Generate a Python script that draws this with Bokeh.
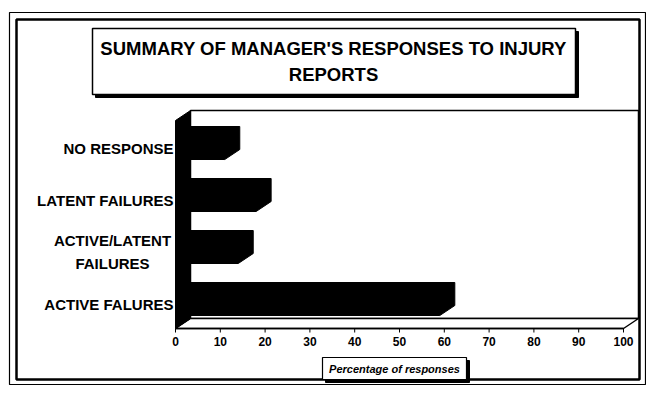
from bokeh.plotting import figure
from bokeh.models import Range1d
from bokeh.core.properties import value
from bokeh.embed import file_html
from bokeh.resources import INLINE

# ---------------- data ----------------
categories = ["ACTIVE FALURES", "ACTIVE/LATENT\nFAILURES", "LATENT FAILURES", "NO RESPONSE"]
percentages = [59, 14, 18, 11]
x_ticks = [0, 10, 20, 30, 40, 50, 60, 70, 80, 90, 100]
x_tick_labels = ["0", "10", "20", "30", "40", "50", "60", "70", "80", "90", "100"]
title_lines = ["SUMMARY OF MANAGER'S RESPONSES TO INJURY", "REPORTS"]
x_axis_label = "Percentage of responses"
x_max = 100

# ---------------- layout (picture pixels -> data) ----------------
W, H = 646, 385
PX_PER_UNIT = 4.48
X0_PAGE = 175.0
Y0_PAGE = 303.5
BAND_PX = 52.0


def X(px):
    return (px - X0_PAGE) / PX_PER_UNIT


def Y(py):
    return (Y0_PAGE - py) / BAND_PX


DX = 15 / PX_PER_UNIT
DY = 10 / BAND_PX
HALF = 11.5 / BAND_PX
FONT = value("Liberation Sans")

p = figure(width=W, height=H, output_backend="svg", toolbar_location=None,
           x_range=Range1d(X(0), X(W)), y_range=Range1d(Y(H), Y(0)),
           x_axis_type=None, y_axis_type=None, min_border=0)
p.outline_line_color = None
p.grid.visible = False
p.background_fill_color = "white"
p.border_fill_color = "white"

# outer double frame
p.quad(left=[X(9)], right=[X(645)], top=[Y(12)], bottom=[Y(384)],
       fill_color=None, line_color="black", line_width=1.2)
p.quad(left=[X(16)], right=[X(639)], top=[Y(19)], bottom=[Y(379)],
       fill_color=None, line_color="black", line_width=2.5)

# title box with shadow
p.quad(left=[X(95)], right=[X(578)], top=[Y(31)], bottom=[Y(97)],
       fill_color="black", line_color="black")
p.quad(left=[X(92)], right=[X(575)], top=[Y(28)], bottom=[Y(94)],
       fill_color="white", line_color="black", line_width=1.5)
p.text(x=[X(333)] * 2, y=[Y(48), Y(74)], text=title_lines,
       text_font=FONT, text_font_style="bold", text_font_size="18.5px",
       text_align="center", text_baseline="middle", text_color="black")

# 3D chart area
y_floor = Y(328)
y_top = Y(120)
# back wall
p.quad(left=[DX], right=[x_max + DX], bottom=[y_floor + DY], top=[y_top + DY],
       fill_color="white", line_color="black", line_width=1.5)
# floor
p.patch(x=[0, x_max, x_max + DX, DX], y=[y_floor, y_floor, y_floor + DY, y_floor + DY],
        fill_color="white", line_color="black", line_width=1.5)
# left wall (black)
p.patch(x=[0, 0, DX, DX], y=[y_floor, y_top, y_top + DY, y_floor + DY],
        fill_color="black", line_color="black", line_width=1)

# bars (3D silhouette)
xs, ys = [], []
for k, v in enumerate(percentages):
    b, t = k - HALF, k + HALF
    xs.append([0, v, v + DX, v + DX, DX, 0])
    ys.append([b, b, b + DY, t + DY, t + DY, t])
p.patches(xs=xs, ys=ys, fill_color="black", line_color="black", line_width=1)

# x axis: line, ticks, labels
p.segment(x0=[0], y0=[y_floor], x1=[x_max], y1=[y_floor], line_color="black", line_width=1.5)
p.segment(x0=x_ticks, y0=[y_floor] * len(x_ticks), x1=x_ticks, y1=[Y(332)] * len(x_ticks),
          line_color="black", line_width=1)
p.text(x=x_ticks, y=[Y(341)] * len(x_ticks), text=x_tick_labels,
       text_font=FONT, text_font_style="bold", text_font_size="12px",
       text_align="center", text_baseline="middle", text_color="black")

# category labels
single = [(k, c) for k, c in enumerate(categories) if "\n" not in c]
multi = [(k, c) for k, c in enumerate(categories) if "\n" in c]
p.text(x=[X(173)] * len(single), y=[k for k, _ in single], text=[c for _, c in single],
       text_font=FONT, text_font_style="bold", text_font_size="15px",
       text_align="right", text_baseline="middle", text_color="black")
p.text(x=[X(112)] * len(multi), y=[k for k, _ in multi], text=[c for _, c in multi],
       text_font=FONT, text_font_style="bold", text_font_size="15px",
       text_align="center", text_baseline="middle", text_color="black",
       text_line_height=1.3)

# x axis label box with shadow
p.quad(left=[X(325)], right=[X(469)], top=[Y(360)], bottom=[Y(382)],
       fill_color="black", line_color="black")
p.quad(left=[X(322)], right=[X(466)], top=[Y(357)], bottom=[Y(379)],
       fill_color="white", line_color="black", line_width=1.2)
p.text(x=[X(394)], y=[Y(368)], text=[x_axis_label],
       text_font=FONT, text_font_style="bold italic", text_font_size="11px",
       text_align="center", text_baseline="middle", text_color="black")

open("out.html", "w").write(file_html(p, INLINE))
